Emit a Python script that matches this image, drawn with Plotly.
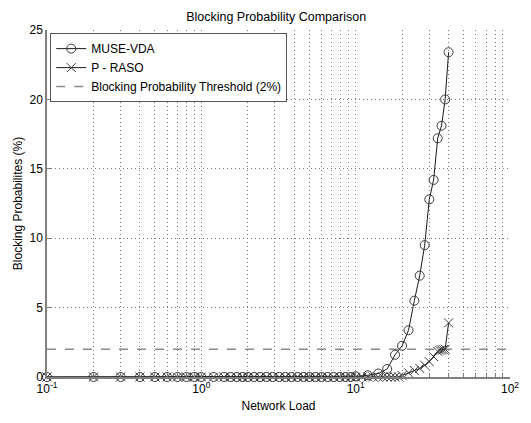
import plotly.graph_objects as go

# shared low-load points (both schemes at 0 %)
x_low = [0.1, 0.2, 0.3, 0.4, 0.5, 0.6, 0.7, 0.8, 0.9, 1.0, 1.2, 1.4, 1.55, 1.7, 1.85,
         2.0, 2.2, 2.4, 2.65, 2.9, 3.2, 3.5, 3.85, 4.2, 4.6, 5.0, 5.5, 6.0, 6.6,
         7.2, 7.9, 8.6, 9.3]
y_low = [0.0] * len(x_low)

muse_x = x_low + [10, 12, 14, 16, 18, 20, 22, 24, 26, 28, 30, 32, 34, 36, 38, 40]
muse_y = y_low + [0.05, 0.12, 0.25, 0.58, 1.6, 2.25, 3.37, 5.5, 7.3, 9.5, 12.8,
                  14.2, 17.2, 18.1, 20.0, 23.4]

raso_x = x_low + [10, 11, 12, 13, 14, 15, 16, 17, 18, 19, 20, 22, 24, 26, 28, 30,
                  32, 34, 35, 36, 37, 38, 40]
raso_y = y_low + [0, 0, 0, 0, 0, 0, 0, 0, 0, 0, 0.1, 0.3, 0.47, 0.62, 0.85, 1.1,
                  1.47, 1.85, 1.93, 1.95, 1.97, 2.0, 3.9]

thr_x = [0.1, 100]
thr_y = [2, 2]

y_ticks = [0, 5, 10, 15, 20, 25]
x_ticks = [0.1, 1, 10, 100]
x_ticktext = ["10<sup>-1</sup>", "10<sup>0</sup>", "10<sup>1</sup>", "10<sup>2</sup>"]

FONT = "Liberation Sans, Arial, sans-serif"
GRID = "#7a7a7a"
TXT = dict(family=FONT, size=12, color="black")

fig = go.Figure()
fig.add_trace(go.Scatter(
    x=thr_x, y=thr_y, mode="lines", name="Blocking Probability Threshold (2%)",
    line=dict(color="#8a8a8a", width=1.5, dash="dash"),
    legendrank=3, cliponaxis=False,
))
fig.add_trace(go.Scatter(
    x=muse_x, y=muse_y, mode="lines+markers", name="MUSE-VDA",
    line=dict(color="#1a1a1a", width=1),
    marker=dict(symbol="circle-open", size=9, color="#3a3a3a", line=dict(width=1)),
    legendrank=1, cliponaxis=False,
))
fig.add_trace(go.Scatter(
    x=raso_x, y=raso_y, mode="lines+markers", name="P - RASO",
    line=dict(color="#1a1a1a", width=1),
    marker=dict(symbol="x-thin-open", size=9, color="#3a3a3a", line=dict(width=1, color="#3a3a3a")),
    legendrank=2, cliponaxis=False,
))

fig.update_layout(
    width=531, height=423,
    margin=dict(l=47, r=14, t=30, b=37),
    paper_bgcolor="white", plot_bgcolor="white",
    font=TXT,
    title=dict(text="Blocking Probability Comparison", x=0.52, xanchor="center",
               y=0.96, yanchor="middle", font=dict(family=FONT, size=12.5, color="black")),
    showlegend=True,
    legend=dict(x=0.007, y=0.991, xanchor="left", yanchor="top",
                bgcolor="white", bordercolor="#555555", borderwidth=1,
                font=TXT, itemwidth=30, tracegroupgap=0),
)
fig.update_xaxes(
    type="log", range=[-1, 2], tickvals=x_ticks, ticktext=x_ticktext,
    showline=True, linecolor="#808080", linewidth=1.5, mirror=False,
    ticks="inside", ticklen=5, tickcolor="#808080",
    showgrid=True, gridcolor=GRID, griddash="1px,3px", gridwidth=1,
    minor=dict(dtick="D1", showgrid=True, gridcolor=GRID, griddash="1px,3px", gridwidth=1,
               ticks="inside", ticklen=4, tickcolor="#808080"),
    zeroline=False,
    title=dict(text="Network Load", standoff=6, font=TXT),
    tickfont=TXT,
)
fig.update_yaxes(
    range=[0, 25], tickvals=y_ticks,
    showline=True, linecolor="#808080", linewidth=1.5, mirror=False,
    ticks="inside", ticklen=5, tickcolor="#808080",
    showgrid=True, gridcolor=GRID, griddash="1px,3px", gridwidth=1,
    zeroline=False,
    title=dict(text="Blocking Probabilites (%)", standoff=4, font=TXT),
    tickfont=TXT,
)

fig.write_html("out.html")
